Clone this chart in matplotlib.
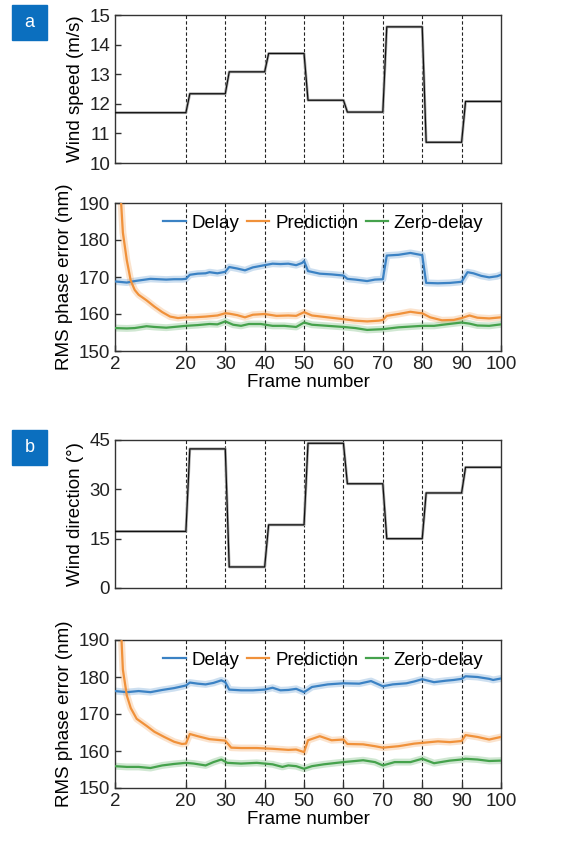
import matplotlib
matplotlib.use('Agg')
import matplotlib.pyplot as plt
from matplotlib.patches import Rectangle
import numpy as np

plt.rcParams['font.family'] = ['Liberation Sans', 'DejaVu Sans']
plt.rcParams['font.size'] = 13.5

# step boundaries and levels of the wind inputs
step_edges = [2, 20, 30, 40, 50, 60, 70, 80, 90, 100]
wind_speed = [11.70, 12.34, 13.08, 13.70, 12.12, 11.72, 14.60, 10.70, 12.08]
wind_dir = [17.2, 42.3, 6.4, 19.2, 44.0, 31.7, 15.0, 28.9, 36.7]

# panel a, RMS phase error (nm)
a_delay_f = [2, 4, 5, 7, 9, 11, 13, 15, 17, 19, 20, 21, 23, 25, 26, 28, 30, 31, 33, 35, 37, 40, 42, 44, 46, 48, 49.5, 50,
             51, 54, 57, 60, 61, 63, 66, 68, 70, 71, 74, 77, 79, 80, 81, 84, 87, 90, 91.5, 93, 95, 97, 99, 100]
a_delay = [168.8, 168.6, 168.5, 168.9, 169.2, 169.5, 169.4, 169.3, 169.4, 169.4, 169.5, 170.6, 170.9, 171.0, 171.3, 171.0,
           171.4, 172.7, 172.3, 171.8, 172.6, 173.2, 173.6, 173.5, 173.6, 173.2, 173.8, 174.3, 171.6, 170.9, 170.7, 170.4,
           169.5, 169.3, 168.9, 169.3, 169.4, 175.8, 176.0, 176.5, 176.1, 175.9, 168.4, 168.3, 168.4, 168.7, 171.3, 171.0,
           170.3, 169.9, 170.2, 170.6]
a_pred_f = [2, 3, 4, 5, 6, 7, 8, 10, 12, 14, 16, 18, 20, 22, 25, 28, 30, 31, 33, 35, 37, 40, 43, 46, 48, 50, 52, 56, 60,
            63, 66, 69, 70, 71, 74, 77, 79, 80, 82, 85, 88, 90, 92, 94, 97, 100]
a_pred = [230, 200, 182, 174.5, 169.0, 166.5, 165.2, 163.7, 162.0, 160.5, 159.3, 158.9, 159.1, 159.1, 159.3, 159.6, 160.2,
          160.1, 159.7, 159.1, 159.8, 160.0, 159.5, 159.6, 159.5, 160.5, 159.6, 159.1, 158.6, 158.2, 158.0, 158.2, 158.4,
          159.5, 160.0, 160.6, 160.3, 160.2, 159.1, 158.3, 158.4, 158.9, 159.6, 159.0, 158.8, 159.1]
a_zero_f = [2, 5, 7, 10, 12, 15, 18, 20, 23, 26, 28, 30, 32, 34, 36, 39, 42, 45, 48, 50, 52, 56, 60, 63, 66, 68, 70, 74,
            77, 80, 83, 86, 90, 92, 94, 97, 100]
a_zero = [156.2, 156.1, 156.2, 156.7, 156.5, 156.3, 156.6, 156.8, 157.0, 157.3, 157.2, 158.0, 157.1, 156.8, 157.3, 157.3,
          156.8, 156.8, 156.5, 157.7, 157.1, 156.8, 156.5, 156.2, 155.7, 155.8, 155.9, 156.4, 156.6, 156.8, 156.8, 157.2,
          157.7, 157.4, 156.9, 156.8, 157.2]

# panel b, RMS phase error (nm)
b_delay_f = [2, 5, 8, 11, 14, 17, 20, 21, 23, 25, 27, 29, 30, 31, 34, 37, 40, 42, 44, 46, 48, 50, 52, 56, 60, 64, 67,
             70, 72.5, 76, 78, 80, 83, 86, 88, 90, 91, 94, 97, 98, 100]
b_delay = [176.2, 175.9, 176.2, 175.9, 176.5, 177.0, 177.7, 178.5, 178.2, 178.0, 178.4, 179.1, 178.6, 176.6, 176.4, 176.4,
           176.6, 177.1, 176.4, 176.5, 176.8, 175.9, 177.3, 178.0, 178.3, 178.2, 178.9, 177.5, 178.0, 178.3, 178.8, 179.4,
           178.6, 179.0, 179.2, 179.5, 180.2, 180.0, 179.5, 179.2, 179.6]
b_pred_f = [2, 3, 4, 5, 6, 7.5, 10, 12, 14.5, 17, 19, 20, 21, 23, 26, 29, 30, 31.5, 34, 38, 42, 46, 48, 50, 51, 54, 57,
            60, 61, 65, 68, 70, 74, 78, 80, 84, 87, 90, 91, 94, 97, 100]
b_pred = [240, 205, 182, 175.0, 171.6, 168.7, 166.8, 165.2, 163.8, 162.5, 161.9, 162.0, 164.6, 164.0, 163.2, 162.9, 162.8,
          160.9, 160.8, 160.8, 160.6, 160.3, 160.4, 159.7, 162.9, 164.0, 162.9, 163.1, 161.9, 161.8, 161.3, 160.9, 161.3,
          162.0, 162.2, 162.6, 162.4, 162.7, 164.3, 163.8, 163.1, 163.8]
b_zero_f = [2, 5, 8, 11, 14, 17, 20, 22, 25, 27, 29, 30.5, 34, 38, 42, 44.5, 46, 48, 50, 52, 55, 60, 65, 68, 70, 73, 77,
            80, 83, 87, 90, 91, 94, 97, 100]
b_zero = [155.9, 155.7, 155.7, 155.4, 156.1, 156.5, 156.8, 156.6, 156.1, 157.0, 157.7, 156.8, 156.6, 156.8, 156.4, 155.7,
          156.1, 155.9, 155.2, 155.9, 156.4, 157.0, 157.5, 157.0, 156.1, 157.0, 157.0, 157.9, 156.7, 157.4, 157.7, 157.9,
          157.7, 157.3, 157.4]

xticks = [2, 20, 30, 40, 50, 60, 70, 80, 90, 100]
colors = {'Delay': '#3b82c4', 'Prediction': '#f0913a', 'Zero-delay': '#45a24c'}


def step_line(levels):
    xs, ys = [step_edges[0]], [levels[0]]
    for i, lv in enumerate(levels):
        start = step_edges[i] if i == 0 else step_edges[i] + 1
        xs += [start, step_edges[i + 1]]
        ys += [lv, lv]
    return xs, ys


def style_axes(ax, bottom):
    ax.set_xlim(2, 100)
    for v in step_edges[1:-1]:
        ax.axvline(v, color='#222222', lw=0.8, ls=(0, (3, 2)), zorder=1)
    for s in ax.spines.values():
        s.set_color('#333333')
        s.set_linewidth(1.0)
    ax.tick_params(direction='in', length=4, width=1, colors='#333333', labelcolor='#222222', labelsize=13.5)
    ax.set_xticks(xticks)
    if not bottom:
        ax.tick_params(axis='x', length=0, labelbottom=False)
    else:
        ax.set_xlabel('Frame number', labelpad=1)


def glow(ax, x, y, name):
    c = colors[name]
    ax.plot(x, y, color=c, lw=5, alpha=0.25, solid_capstyle='round', zorder=2)
    line, = ax.plot(x, y, color=c, lw=1.6, label=name, zorder=3)
    return line


fig = plt.figure(figsize=(5.65, 8.41), dpi=100)
L, W = 115 / 565, 386 / 565
H = 148 / 841
ax1 = fig.add_axes([L, 1 - 163 / 841, W, H])
ax2 = fig.add_axes([L, 1 - 351 / 841, W, H])
ax3 = fig.add_axes([L, 1 - 588 / 841, W, H])
ax4 = fig.add_axes([L, 1 - 788 / 841, W, H])

# wind speed
xs, ys = step_line(wind_speed)
ax1.plot(xs, ys, color='#aaaaaa', lw=2.0, zorder=2)
ax1.plot(xs, ys, color='#111111', lw=0.9, zorder=3)
ax1.set_ylim(10, 15)
ax1.set_yticks([10, 11, 12, 13, 14, 15])
ax1.set_ylabel('Wind speed (m/s)')
style_axes(ax1, False)

# wind direction
xs, ys = step_line(wind_dir)
ax3.plot(xs, ys, color='#aaaaaa', lw=2.0, zorder=2)
ax3.plot(xs, ys, color='#111111', lw=0.9, zorder=3)
ax3.set_ylim(0, 45)
ax3.set_yticks([0, 15, 30, 45])
ax3.set_ylabel('Wind direction (°)')
style_axes(ax3, False)

for ax, sets in [(ax2, [(a_delay_f, a_delay, 'Delay'), (a_pred_f, a_pred, 'Prediction'), (a_zero_f, a_zero, 'Zero-delay')]),
                 (ax4, [(b_delay_f, b_delay, 'Delay'), (b_pred_f, b_pred, 'Prediction'), (b_zero_f, b_zero, 'Zero-delay')])]:
    handles = [glow(ax, f, v, n) for f, v, n in sets]
    ax.set_ylim(150, 190)
    ax.set_yticks([150, 160, 170, 180, 190])
    ax.set_ylabel('RMS phase error (nm)')
    style_axes(ax, True)
    ax.legend(handles=handles, ncol=3, frameon=False, loc='center', bbox_to_anchor=(0.54, 0.865),
              handlelength=1.2, handletextpad=0.3, columnspacing=0.4, fontsize=13.5, borderaxespad=0)

# panel letters
for letter, ytop in [('a', 5), ('b', 430)]:
    fig.patches.append(Rectangle((12 / 565, 1 - (ytop + 35) / 841), 35 / 565, 35 / 841,
                                 transform=fig.transFigure, color='#0b6fbf', zorder=5))
    fig.text(29.5 / 565, 1 - (ytop + 17.5) / 841, letter, color='white', ha='center', va='center',
             fontsize=13, zorder=10)

fig.savefig('out.png', dpi=100)
